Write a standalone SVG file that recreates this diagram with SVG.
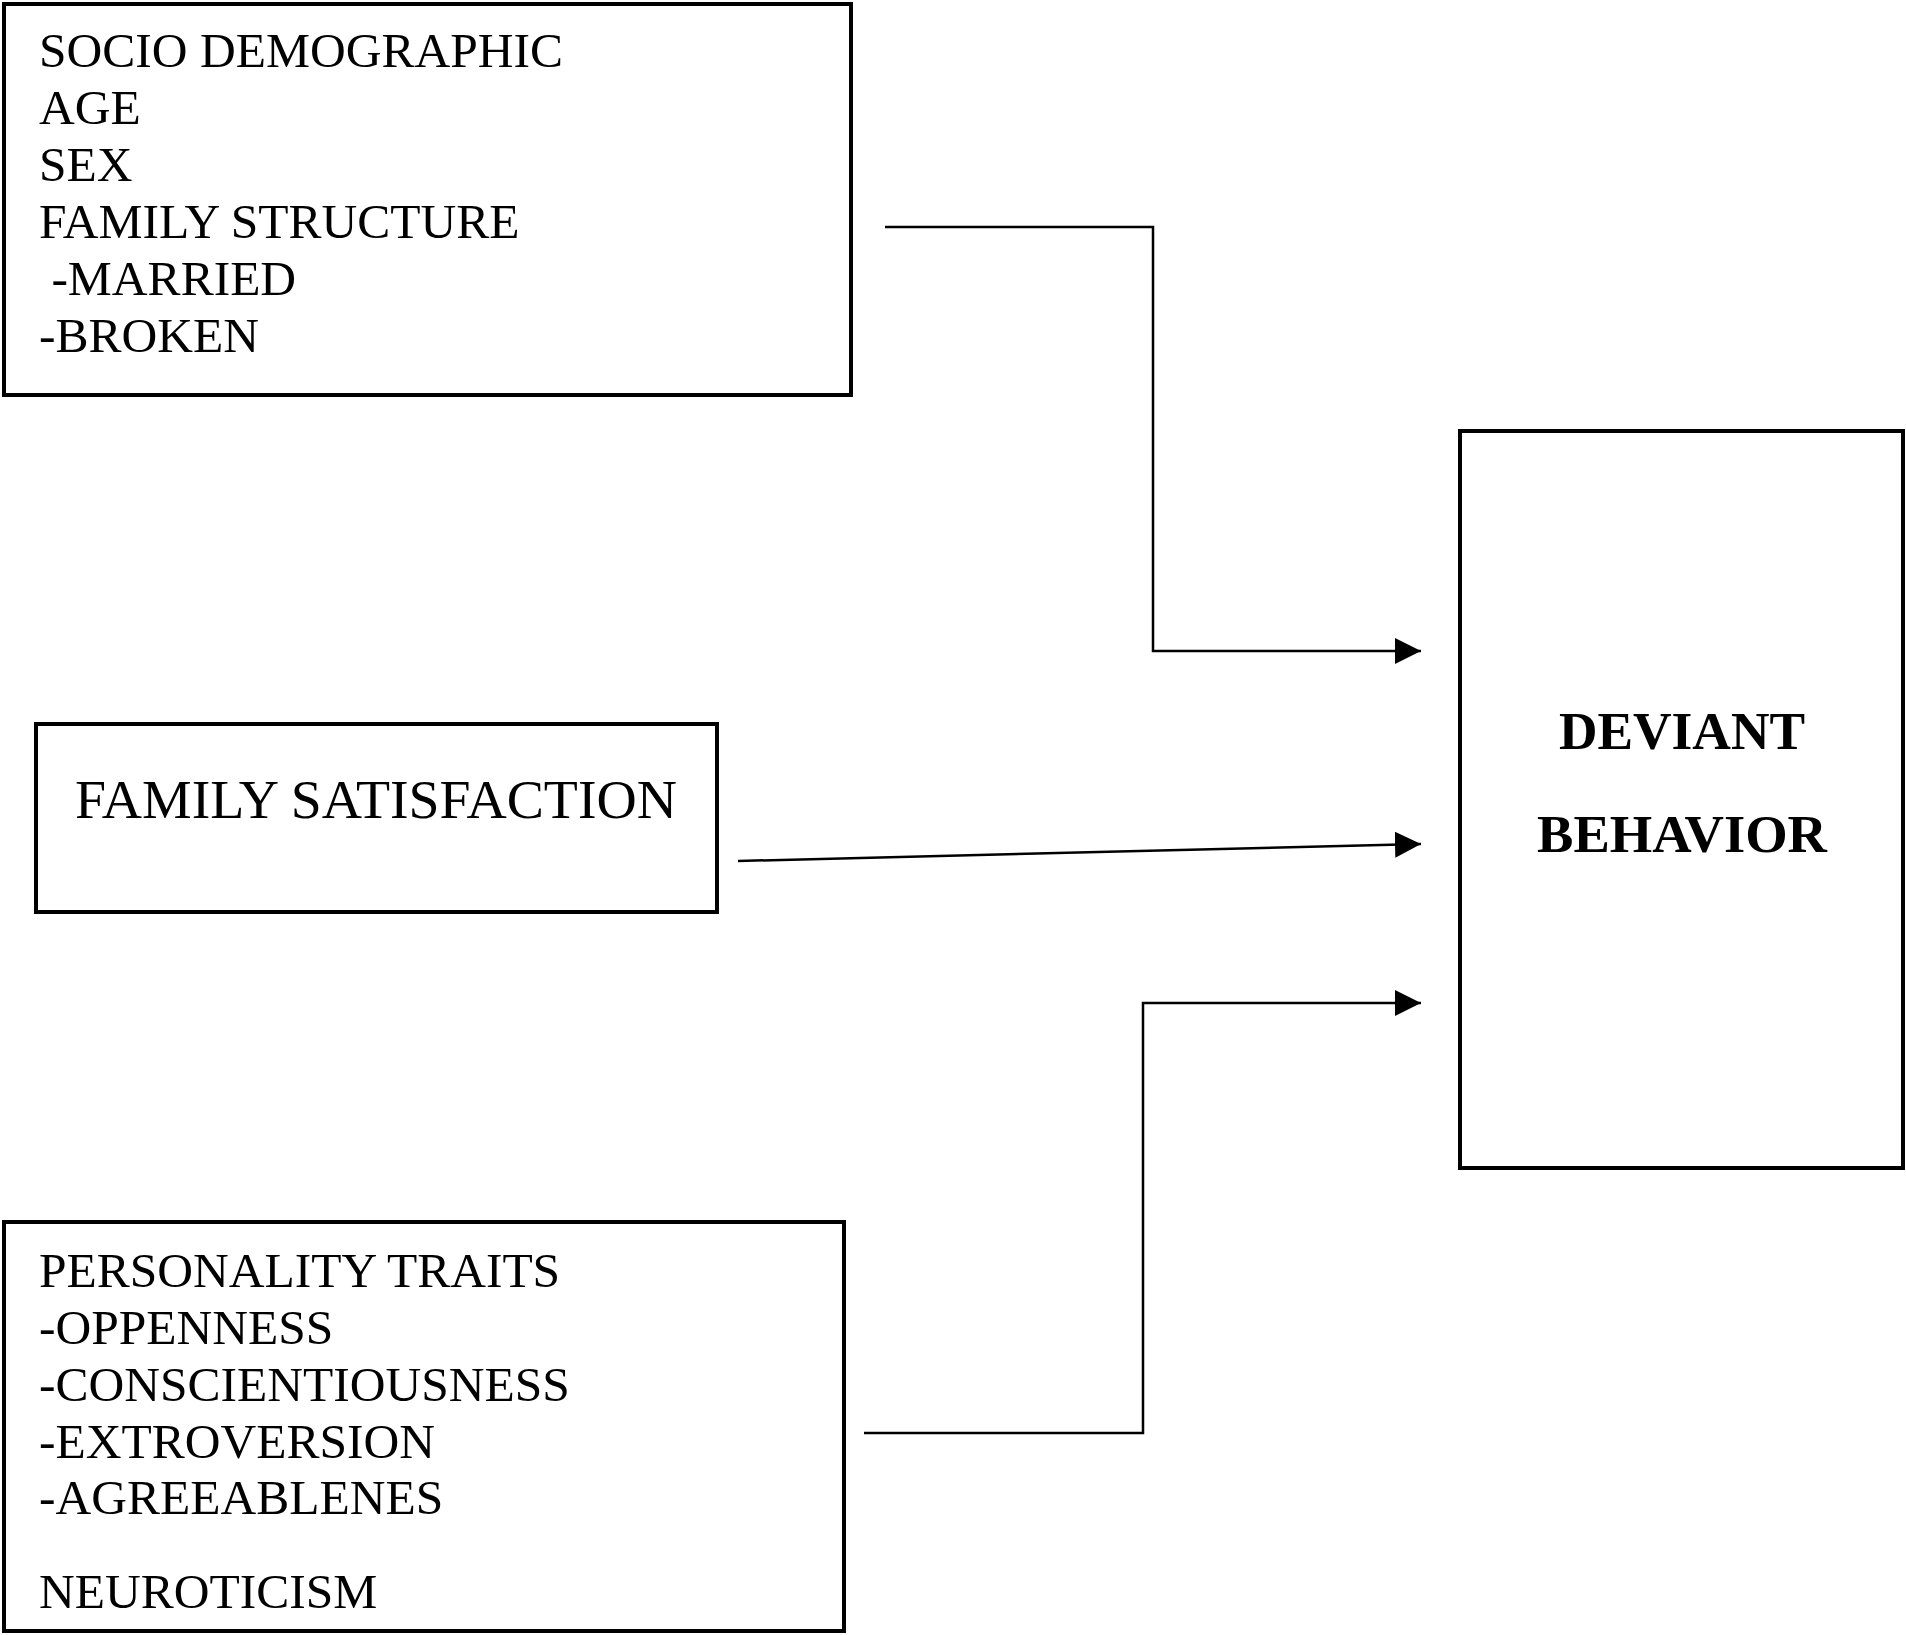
<svg xmlns="http://www.w3.org/2000/svg" width="1906" height="1635" viewBox="0 0 1906 1635">
<style>
.box{fill:#fff;stroke:#000;stroke-width:4}
.t{font-family:"Liberation Serif","Times New Roman",serif;font-size:49.5px;fill:#000}
.b{font-family:"Liberation Serif","Times New Roman",serif;font-size:53px;font-weight:bold;fill:#000;text-anchor:middle}
.c{fill:none;stroke:#000;stroke-width:2.5}
</style>
<defs>
<marker id="ah" markerUnits="userSpaceOnUse" markerWidth="28" markerHeight="28" refX="26" refY="13" orient="auto">
<path d="M0,0 L26,13 L0,26 Z" fill="#000"/>
</marker>
</defs>
<rect width="1906" height="1635" fill="#fff"/>
<g id="socio-demographic">
<rect class="box" x="4" y="4" width="847" height="391"/>
<text class="t" x="39" y="67">SOCIO DEMOGRAPHIC</text>
<text class="t" x="39" y="124">AGE</text>
<text class="t" x="39" y="181">SEX</text>
<text class="t" x="39" y="238">FAMILY STRUCTURE</text>
<text class="t" x="39" y="295" xml:space="preserve"> -MARRIED</text>
<text class="t" x="39" y="352">-BROKEN</text>
</g>
<g id="family-satisfaction">
<rect class="box" x="36" y="724" width="681" height="188"/>
<text class="t" x="75" y="818" style="font-size:54px" textLength="602" lengthAdjust="spacingAndGlyphs">FAMILY SATISFACTION</text>
</g>
<g id="personality-traits">
<rect class="box" x="4" y="1222" width="840" height="409"/>
<text class="t" x="39" y="1287">PERSONALITY TRAITS</text>
<text class="t" x="39" y="1344">-OPPENNESS</text>
<text class="t" x="39" y="1401">-CONSCIENTIOUSNESS</text>
<text class="t" x="39" y="1458">-EXTROVERSION</text>
<text class="t" x="39" y="1514">-AGREEABLENES</text>
<text class="t" x="39" y="1608">NEUROTICISM</text>
</g>
<g id="deviant-behavior">
<rect class="box" x="1460" y="431" width="443" height="737"/>
<text class="b" x="1682" y="749" textLength="246" lengthAdjust="spacingAndGlyphs">DEVIANT</text>
<text class="b" x="1682" y="852" textLength="290" lengthAdjust="spacingAndGlyphs">BEHAVIOR</text>
</g>
<g id="connectors">
<polyline class="c" points="885,227 1153,227 1153,651 1421,651" marker-end="url(#ah)"/>
<line class="c" x1="738" y1="861" x2="1421" y2="844" marker-end="url(#ah)"/>
<polyline class="c" points="864,1433 1143,1433 1143,1003 1421,1003" marker-end="url(#ah)"/>
</g>
</svg>
